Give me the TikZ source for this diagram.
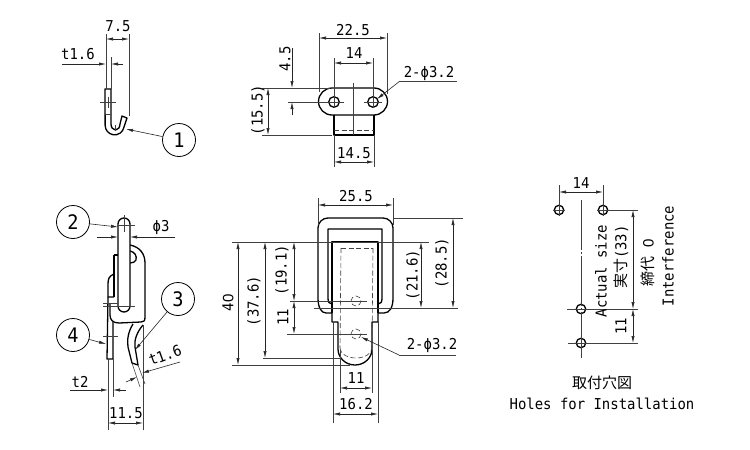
\documentclass[tikz,border=0pt]{standalone}
\usepackage{fontspec}
\setmainfont[FakeStretch=0.93]{DejaVu Sans Mono}
\newfontfamily\cjkfont{Noto Sans CJK JP}
\newfontfamily\zerofont{Liberation Sans}
\newcommand{\nought}{{\zerofont 0}}
\usetikzlibrary{arrows.meta}

\tikzset{
    part/.style={line width=1.3pt, line join=round},
    thin line/.style={line width=0.6pt, black!75},
    hidden/.style={line width=0.6pt, black!75, dash pattern=on 5pt off 2.5pt},
    dimen/.style={line width=0.6pt, black!85, {Latex[length=7pt,width=3.2pt]}-{Latex[length=7pt,width=3.2pt]}},
    pointer/.style={line width=0.6pt, black!85, -{Latex[length=7pt,width=3.2pt]}},
    lbl/.style={font=\fontsize{15}{15}\selectfont, inner sep=0pt},
    vlbl/.style={lbl, rotate=90},
    balloon/.style={draw, circle, line width=0.8pt, minimum size=33pt, inner sep=0pt, font=\fontsize{20}{20}\selectfont},
}

\begin{document}
\begin{tikzpicture}[x=1pt, y=-1pt]
    \useasboundingbox (0,0) rectangle (750,450);

    % hook, side view
    \draw[part] (105,89) -- (111,89) -- (111,124) arc[start angle=180, end angle=0, x radius=4.5, y radius=6] -- (122,116) -- (127,118) -- (124,127) arc[start angle=10, end angle=180, radius=9.5] -- cycle;
    \draw[thin line] (105,114) -- (111,114);
    \draw[thin line] (100,102) -- (116,102);
    \draw[thin line] (108,97) -- (108,108);
    \draw[thin line] (115,125) -- (115,131);
    \draw[thin line] (106,34) -- (106,89);
    \draw[thin line] (111,57) -- (111,89);
    \draw[thin line] (129,34) -- (129,116);
    \draw[dimen] (106,39) -- (129,39);
    \draw[pointer] (62,64) -- (106,64);
    \draw[pointer] (123,64) -- (111,64);
    \node[lbl] (hookwidth) at (118,26) {7.5};
    \node[lbl] (hookthick) at (78,54) {t1.6};
    \node[balloon] (item1) at (179,140) {1};
    \coordinate (hooktip) at (126,129);
    \draw[pointer] (item1) -- (hooktip);

    % hook, front view
    \draw[part] (332,88) -- (374,88) arc[start angle=-90, end angle=90, radius=13.5] -- (332,115) arc[start angle=90, end angle=270, radius=13.5];
    \draw[part] (334,115) -- (334,135) -- (374,135) -- (374,115);
    \draw[part, fill=white] (334,102) circle (5.3);
    \draw[part, fill=white] (373,102) circle (5.3);
    \draw[hidden] (334,130) -- (374,130);
    \draw[thin line] (288,102) -- (344,102);
    \draw[thin line] (364,102) -- (382,102);
    \draw[thin line] (353,83) -- (353,135);
    \draw[thin line] (373,96) -- (373,108);
    \draw[thin line] (334,96) -- (334,108);
    \draw[thin line] (319,33) -- (319,92);
    \draw[thin line] (387,33) -- (387,94);
    \draw[thin line] (334,58) -- (334,97);
    \draw[thin line] (373,58) -- (373,97);
    \draw[thin line] (262,88) -- (330,88);
    \draw[thin line] (262,135) -- (332,135);
    \draw[thin line] (334,135) -- (334,167);
    \draw[thin line] (374,135) -- (374,167);
    \draw[dimen] (319,38) -- (387,38);
    \draw[dimen] (334,63) -- (373,63);
    \draw[dimen] (268,88) -- (268,135);
    \draw[dimen] (334,162) -- (374,162);
    \draw[pointer] (292,48) -- (292,88);
    \draw[pointer] (292,115) -- (292,102);
    \node[lbl] (platewidth) at (353,30) {22.5};
    \node[lbl] (holepitch) at (354,53) {14};
    \node[vlbl] (holeoffset) at (285,59) {4.5};
    \node[vlbl] (hookheight) at (258,110) {(15.5)};
    \node[lbl] (hookbase) at (354,153) {14.5};
    \node[lbl] (holesize) at (429,73) {2-ϕ3.2};
    \coordinate (holeedge) at (377,99);
    \draw[thin line] (457,81) -- (400,81);
    \draw[pointer] (400,81) -- (holeedge);

    % latch, side view
    \draw[part] (130,245) .. controls (140,247) and (145,254) .. (145,263) -- (145,317) .. controls (145,321) and (144,322) .. (141,322) -- (119,323) .. controls (113,323) and (110,320) .. (110,315) -- (110,303);
    \draw[part] (130,251) .. controls (135,252) and (137,256) .. (136,260) .. controls (135,262) and (133,263) .. (130,263);
    \draw[part] (114,255) -- (118,255);
    \draw[part] (114,255) -- (114,297);
    \draw[part] (114,274) .. controls (109,276) and (108,279) .. (108,284) -- (108,297) -- (114,297);
    \draw[part] (108,297) -- (107,359) -- (113,359) -- (113,322);
    \draw[part] (133,324) .. controls (128,332) and (127,340) .. (128,347) -- (132,363) -- (138,365) -- (135,347) .. controls (134,340) and (137,332) .. (143,325);
    \draw[part, fill=white] (118,224) arc[start angle=180, end angle=360, radius=6] -- (130,306) arc[start angle=0, end angle=180, radius=6] -- cycle;
    \draw[thin line] (124,215) -- (124,232);
    \draw[thin line] (117,225) -- (135,225);
    \draw[thin line] (103,306) -- (135,306);
    \draw[thin line] (103,303) -- (118,303);
    \draw[thin line] (103,336) -- (118,336);
    \draw[thin line] (108,359) -- (108,430);
    \draw[thin line] (113,359) -- (113,397);
    \draw[thin line] (143,325) -- (143,430);
    \draw[thin line] (132,363) -- (140,387);
    \draw[thin line] (138,365) -- (145,384);
    \draw[pointer] (97,237) -- (118,237);
    \draw[pointer] (175,237) -- (130,237);
    \draw[pointer] (180,362) -- (142,373);
    \draw[pointer] (126,382) -- (137,377);
    \draw[pointer] (70,390) -- (108,390);
    \draw[pointer] (126,390) -- (113,390);
    \draw[dimen] (108,423) -- (143,423);
    \node[lbl] (pindia) at (161,227) {ϕ3};
    \node[lbl, rotate=20] (tonguethick) at (165,355) {t1.6};
    \node[lbl] (platethick) at (80,382) {t2};
    \node[lbl] (latchdepth) at (126,413) {11.5};
    \node[balloon] (item2) at (73,222) {2};
    \node[balloon] (item3) at (178,299) {3};
    \node[balloon] (item4) at (73,335) {4};
    \coordinate (pinedge) at (118,227);
    \coordinate (tongueedge) at (135,350);
    \coordinate (plateedge) at (106,344);
    \draw[pointer] (item2) -- (pinedge);
    \draw[pointer] (item3) -- (tongueedge);
    \draw[pointer] (item4) -- (plateedge);

    % latch, front view
    \draw[part] (318,228) arc[start angle=180, end angle=270, radius=10] -- (383,218) arc[start angle=-90, end angle=0, radius=10] -- (393,298) .. controls (393,307) and (390,313) .. (384,313) -- (378,313) -- (378,322) -- (372,322) -- (372,349) arc[start angle=0, end angle=180, x radius=17, y radius=16] -- (338,322) -- (332,322) -- (332,313) -- (326,313) .. controls (321,313) and (318,307) .. (318,298) -- cycle;
    \draw[part] (332,304) .. controls (329,304) and (328,302) .. (328,298) -- (328,229) -- (382,229) -- (382,298) .. controls (382,302) and (381,304) .. (378,304);
    \draw[part] (332,313) -- (332,242) -- (378,242) -- (378,313);
    \draw[hidden] (341,248) -- (373,248);
    \draw[hidden] (341,248) -- (340,348);
    \draw[hidden] (373,248) -- (372,348);
    \draw[hidden] (340,348) arc[start angle=180, end angle=0, x radius=16, y radius=10];
    \draw[hidden] (356,301) circle (5);
    \draw[hidden] (356,334) circle (5);
    \draw[thin line] (318,198) -- (318,225);
    \draw[thin line] (393,198) -- (393,225);
    \draw[thin line] (232,242) -- (429,242);
    \draw[thin line] (232,365) -- (350,365);
    \draw[thin line] (263,358) -- (340,358);
    \draw[thin line] (290,301) -- (367,301);
    \draw[thin line] (287,334) -- (367,334);
    \draw[thin line] (393,218) -- (463,218);
    \draw[thin line] (314,308) -- (458,308);
    \draw[thin line] (340,350) -- (340,393);
    \draw[thin line] (372,350) -- (372,393);
    \draw[thin line] (333,322) -- (333,423);
    \draw[thin line] (378,322) -- (378,423);
    \draw[dimen] (318,205) -- (393,205);
    \draw[dimen] (238,242) -- (238,365);
    \draw[dimen] (265,242) -- (265,358);
    \draw[dimen] (294,242) -- (294,301);
    \draw[dimen] (294,301) -- (294,334);
    \draw[dimen] (421,242) -- (421,308);
    \draw[dimen] (453,218) -- (453,308);
    \draw[dimen] (340,388) -- (372,388);
    \draw[dimen] (333,414) -- (378,414);
    \node[lbl] (framewidth) at (356,196) {25.5};
    \node[vlbl] (overall) at (228,303) {4\nought};
    \node[vlbl] (overallin) at (254,301) {(37.6)};
    \node[vlbl] (toholeA) at (282,270) {(19.1)};
    \node[vlbl] (holegap) at (283,317) {11};
    \node[vlbl] (frameA) at (413,275) {(21.6)};
    \node[vlbl] (frameB) at (442,263) {(28.5)};
    \node[lbl] (tonguehole) at (432,345) {2-ϕ3.2};
    \node[lbl] (tongueinner) at (356,378) {11};
    \node[lbl] (tongueouter) at (356,404) {16.2};
    \coordinate (tonguehit) at (361,337);
    \draw[thin line] (456,355) -- (399,355);
    \draw[pointer] (399,355) -- (tonguehit);

    % mounting holes
    \draw[part] (559,210) circle (4.7);
    \draw[part] (603,210) circle (4.7);
    \draw[part] (581,309) circle (4.7);
    \draw[part] (581,343) circle (4.7);
    \draw[thin line] (553,210) -- (565,210);
    \draw[thin line] (559,204) -- (559,216);
    \draw[thin line] (597,210) -- (638,210);
    \draw[thin line] (567,309) -- (638,309);
    \draw[thin line] (568,343) -- (638,343);
    \draw[thin line] (559,185) -- (559,204);
    \draw[thin line] (603,185) -- (603,216);
    \draw[thin line, dash pattern=on 50pt off 2pt on 2pt off 2pt] (581,200) -- (581,358);
    \draw[dimen] (559,192) -- (603,192);
    \draw[dimen] (633,210) -- (633,309);
    \draw[dimen] (633,309) -- (633,343);
    \node[lbl] (mountpitch) at (581,183) {14};
    \node[vlbl] (mountgap) at (621,326) {11};
    \node[vlbl] (actual) at (601,271) {Actual size};
    \node[vlbl] (actualjp) at (621,257) {{\cjkfont 実寸}(33)};
    \node[vlbl] (interjp) at (648,263) {{\cjkfont 締代} \nought};
    \node[vlbl] (inter) at (668,256) {Interference};
    \node[lbl] (titlejp) at (602,383) {\cjkfont 取付穴図};
    \node[lbl] (title) at (602,404) {Holes for Installation};
\end{tikzpicture}
\end{document}
